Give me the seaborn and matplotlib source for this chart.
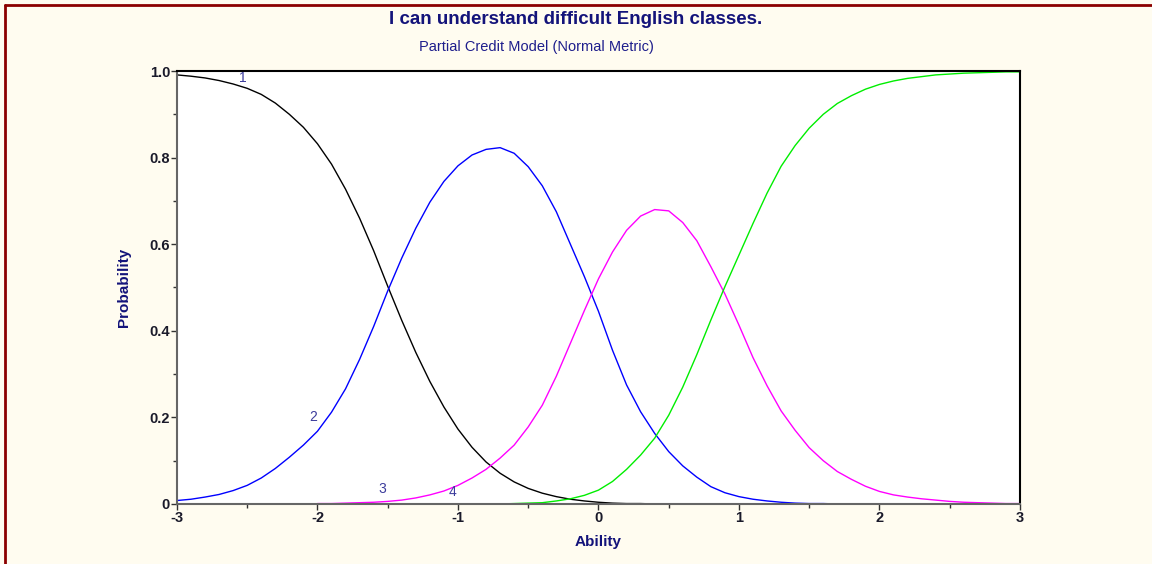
import numpy as np
import pandas as pd
import matplotlib.pyplot as plt
import seaborn as sns
from matplotlib.lines import Line2D

# === DATOS (paso 0.1 en Ability) ===
paso = 0.1

cat1_start = -3.0
cat1 = [0.991, 0.988, 0.984, 0.978, 0.970, 0.960, 0.946, 0.926, 0.900, 0.870,
        0.832, 0.785, 0.727, 0.660, 0.585, 0.503, 0.424, 0.350, 0.283, 0.224,
        0.173, 0.131, 0.097, 0.071, 0.051, 0.036, 0.025, 0.017, 0.011, 0.007,
        0.004, 0.002, 0.001, 0.001, 0.0]

cat2_start = -3.0
cat2 = [0.008, 0.011, 0.016, 0.022, 0.031, 0.043, 0.060, 0.082, 0.108, 0.136,
        0.168, 0.212, 0.266, 0.334, 0.410, 0.492, 0.568, 0.637, 0.697, 0.745,
        0.781, 0.806, 0.819, 0.823, 0.810, 0.779, 0.735, 0.675, 0.600, 0.525,
        0.445, 0.355, 0.275, 0.213, 0.163, 0.121, 0.088, 0.062, 0.040, 0.026,
        0.017, 0.011, 0.007, 0.004, 0.002, 0.001, 0.001, 0.0]

cat3_start = -2.0
cat3 = [0.001, 0.001, 0.002, 0.003, 0.004, 0.006, 0.009, 0.014, 0.021, 0.030,
        0.043, 0.060, 0.080, 0.106, 0.136, 0.178, 0.228, 0.295, 0.371, 0.447,
        0.520, 0.582, 0.632, 0.665, 0.680, 0.677, 0.650, 0.608, 0.548, 0.485,
        0.413, 0.338, 0.273, 0.215, 0.170, 0.130, 0.100, 0.075, 0.057, 0.041,
        0.029, 0.021, 0.016, 0.012, 0.009, 0.006, 0.004, 0.003, 0.002, 0.001,
        0.001]

cat4_start = -0.8
cat4 = [0.000, 0.000, 0.001, 0.002, 0.003, 0.007, 0.012, 0.020, 0.032, 0.052,
        0.080, 0.113, 0.152, 0.205, 0.270, 0.345, 0.425, 0.502, 0.575, 0.648,
        0.718, 0.780, 0.828, 0.868, 0.900, 0.925, 0.943, 0.958, 0.969, 0.977,
        0.983, 0.987, 0.991, 0.993, 0.995, 0.996, 0.997, 0.998, 0.998]

categorias = ["1", "2", "3", "4"]
colores = ["#000000", "#0000FF", "#FF00FF", "#00EE00"]

# posiciones de las etiquetas de categoría (x, y en unidades de datos)
etiquetas_x = [-2.53, -2.03, -1.54, -1.04]
etiquetas_y = [0.985, 0.20, 0.035, 0.028]

x_ticks = [-3, -2, -1, 0, 1, 2, 3]
y_ticks = [0, 0.2, 0.4, 0.6, 0.8, 1.0]
y_tick_labels = ["0", "0.2", "0.4", "0.6", "0.8", "1.0"]

titulo = "I can understand difficult English classes."
subtitulo = "Partial Credit Model (Normal Metric)"

# === TABLA LARGA ===
def serie(valores, inicio, nombre):
    xs = np.round(inicio + paso * np.arange(len(valores)), 2)
    return pd.DataFrame({"Ability": xs, "Probability": valores, "Cat": nombre})

df = pd.concat([
    serie(cat1, cat1_start, "1"),
    serie(cat2, cat2_start, "2"),
    serie(cat3, cat3_start, "3"),
    serie(cat4, cat4_start, "4"),
], ignore_index=True)

# === GRÁFICO ===
sns.set_theme(style="white")
plt.rcParams["font.family"] = ["Liberation Sans", "DejaVu Sans"]

fondo = "#FFFCF0"
azul_texto = "#13137A"

fig = plt.figure(figsize=(11.52, 5.64), dpi=100, facecolor=fondo)
ax = fig.add_axes([0.1536, 0.1064, 0.7318, 0.7677])
ax.set_facecolor("white")

sns.lineplot(data=df, x="Ability", y="Probability", hue="Cat",
             hue_order=categorias, palette=colores, linewidth=1.0,
             legend=False, ax=ax, sort=True, estimator=None)

for etq, ex, ey in zip(categorias, etiquetas_x, etiquetas_y):
    ax.text(ex, ey, etq, color="#3C3C9C", fontsize=10, ha="center", va="center")

ax.set_xlim(-3, 3)
ax.set_ylim(0, 1.0)
ax.set_xticks(x_ticks)
ax.set_xticklabels([str(t) for t in x_ticks])
ax.set_yticks(y_ticks)
ax.set_yticklabels(y_tick_labels)
ax.set_xticks(np.arange(-2.5, 3, 1.0), minor=True)
ax.set_yticks(np.arange(0.1, 1.0, 0.2), minor=True)

ax.tick_params(axis="both", which="major", direction="out", length=4, width=1,
               color="#333333", labelsize=10.5, pad=1)
ax.tick_params(axis="both", which="minor", direction="out", length=3, width=1,
               color="#333333")
ax.tick_params(axis="x", which="both", bottom=True)
ax.tick_params(axis="y", which="both", left=True)
for lab in ax.get_xticklabels() + ax.get_yticklabels():
    lab.set_fontweight("bold")
    lab.set_color("#1A1A2A")

for lado in ["left", "bottom"]:
    ax.spines[lado].set_color("#666666")
    ax.spines[lado].set_linewidth(1.5)
for lado in ["top", "right"]:
    ax.spines[lado].set_color("#000000")
    ax.spines[lado].set_linewidth(1.5)

ax.set_xlabel("Ability", fontsize=11, fontweight="bold", color=azul_texto, labelpad=7)
ax.set_ylabel("Probability", fontsize=11, fontweight="bold", color=azul_texto, labelpad=13)

fig.text(0.4996, 0.965, titulo, ha="center", va="center", fontsize=13.5,
         fontweight="bold", color=azul_texto)
fig.text(0.4657, 0.916, subtitulo, ha="center", va="center", fontsize=10.5,
         color="#1E1E8C")

# borde rojo oscuro arriba e izquierda
fig.add_artist(Line2D([5 / 1152, 1.0], [1 - 5 / 564, 1 - 5 / 564],
                      color="#8B0000", linewidth=2, transform=fig.transFigure))
fig.add_artist(Line2D([5 / 1152, 5 / 1152], [0.0, 1 - 5 / 564],
                      color="#8B0000", linewidth=2, transform=fig.transFigure))

fig.savefig("out.png", dpi=100, facecolor=fondo)
